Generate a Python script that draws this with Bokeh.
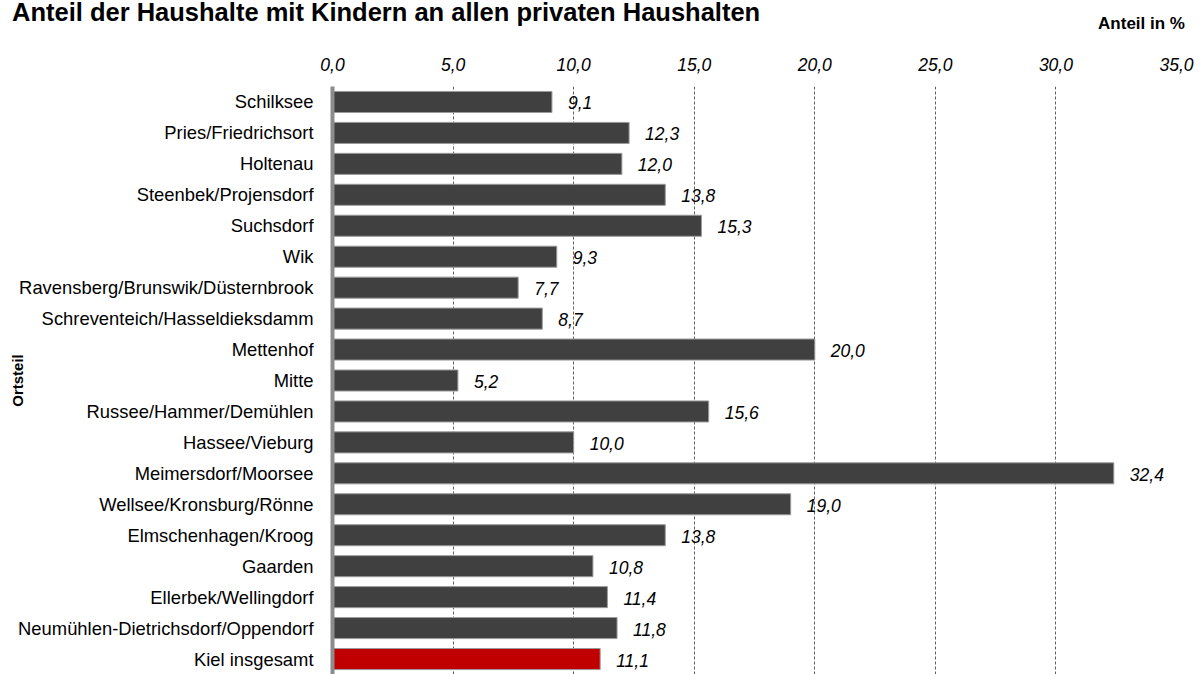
from bokeh.plotting import figure
from bokeh.layouts import column
from bokeh.models import Range1d, FactorRange, ColumnDataSource, FixedTicker, CustomJSTickFormatter, Div
from bokeh.core.properties import value
from bokeh.embed import file_html
from bokeh.resources import INLINE

districts = [
    "Schilksee", "Pries/Friedrichsort", "Holtenau", "Steenbek/Projensdorf",
    "Suchsdorf", "Wik", "Ravensberg/Brunswik/Düsternbrook",
    "Schreventeich/Hasseldieksdamm", "Mettenhof", "Mitte",
    "Russee/Hammer/Demühlen", "Hassee/Vieburg", "Meimersdorf/Moorsee",
    "Wellsee/Kronsburg/Rönne", "Elmschenhagen/Kroog", "Gaarden",
    "Ellerbek/Wellingdorf", "Neumühlen-Dietrichsdorf/Oppendorf", "Kiel insgesamt",
]
shares = [9.1, 12.3, 12.0, 13.8, 15.3, 9.3, 7.7, 8.7, 20.0, 5.2,
          15.6, 10.0, 32.4, 19.0, 13.8, 10.8, 11.4, 11.8, 11.1]
x_ticks = [0, 5, 10, 15, 20, 25, 30, 35]
title_text = "Anteil der Haushalte mit Kindern an allen privaten Haushalten"
unit_text = "Anteil in %"

FONT = "Liberation Sans"
colors = ["#404040"] * (len(districts) - 1) + ["#C00000"]
labels = [f"{v:.1f}".replace(".", ",") for v in shares]

src = ColumnDataSource(dict(y=districts, x=shares, color=colors, label=labels))

W = 1200
HEAD_H = 40
H = 674 - HEAD_H
LEFT, RIGHT, TOP, BOTTOM = 332, 24, 86 - HEAD_H, 0

# ---- header (title + unit) ----
head_html = (
    f'<div style="position:relative;width:{W}px;height:{HEAD_H}px;margin:0;padding:0;">'
    f'<span style="position:absolute;left:12px;top:0px;white-space:nowrap;'
    f"font-family:'{FONT}';font-size:25.5px;font-weight:bold;line-height:25.5px;color:#000;\">"
    f'{title_text}</span>'
    f'<span style="position:absolute;right:15px;top:15px;white-space:nowrap;'
    f"font-family:'{FONT}';font-size:17px;font-weight:bold;line-height:17px;color:#000;\">"
    f'{unit_text}</span>'
    '</div>'
)
head = Div(text=head_html, width=W, height=HEAD_H, margin=0)

# ---- main chart ----
p = figure(
    width=W, height=H,
    y_range=FactorRange(*reversed(districts), range_padding=0),
    x_range=Range1d(0, 35),
    x_axis_location="above",
    output_backend="svg", toolbar_location=None,
    min_border_left=LEFT, min_border_right=RIGHT, min_border_top=TOP, min_border_bottom=BOTTOM,
    margin=0,
)
p.outline_line_color = None
p.background_fill_color = "white"

p.hbar(y="y", right="x", left=0, height=0.68, fill_color="color",
       line_color="#9a9a9a", line_width=1, source=src)

p.text(x="x", y="y", text="label", source=src, x_offset=16, y_offset=1,
       text_font=value(FONT), text_font_size="17.5px", text_font_style="italic",
       text_align="left", text_baseline="middle", text_color="#000000")

xa = p.xaxis[0]
xa.ticker = FixedTicker(ticks=x_ticks)
xa.formatter = CustomJSTickFormatter(code="return tick.toFixed(1).replace('.', ',');")
xa.axis_line_color = None
xa.major_tick_line_color = None
xa.minor_tick_line_color = None
xa.major_label_text_font = FONT
xa.major_label_text_font_size = "17.5px"
xa.major_label_text_font_style = "italic"
xa.major_label_text_color = "#000000"
xa.major_label_standoff = 10

ya = p.yaxis[0]
ya.axis_line_color = "#8c8c8c"
ya.axis_line_width = 4
ya.major_tick_line_color = None
ya.minor_tick_line_color = None
ya.major_label_text_font = FONT
ya.major_label_text_font_size = "18.4px"
ya.major_label_text_color = "#000000"
ya.major_label_standoff = 13
ya.axis_label = "Ortsteil"
ya.axis_label_text_font = FONT
ya.axis_label_text_font_size = "15px"
ya.axis_label_text_font_style = "bold"
ya.axis_label_text_color = "#000000"
ya.axis_label_standoff = -11

p.ygrid.grid_line_color = None
p.xgrid.grid_line_color = "#606060"
p.xgrid.grid_line_dash = "3 2"
p.xgrid.grid_line_width = 1
p.xgrid.ticker = FixedTicker(ticks=x_ticks[1:])

layout = column(head, p, spacing=0, margin=0)
open("out.html", "w").write(file_html(layout, INLINE))
